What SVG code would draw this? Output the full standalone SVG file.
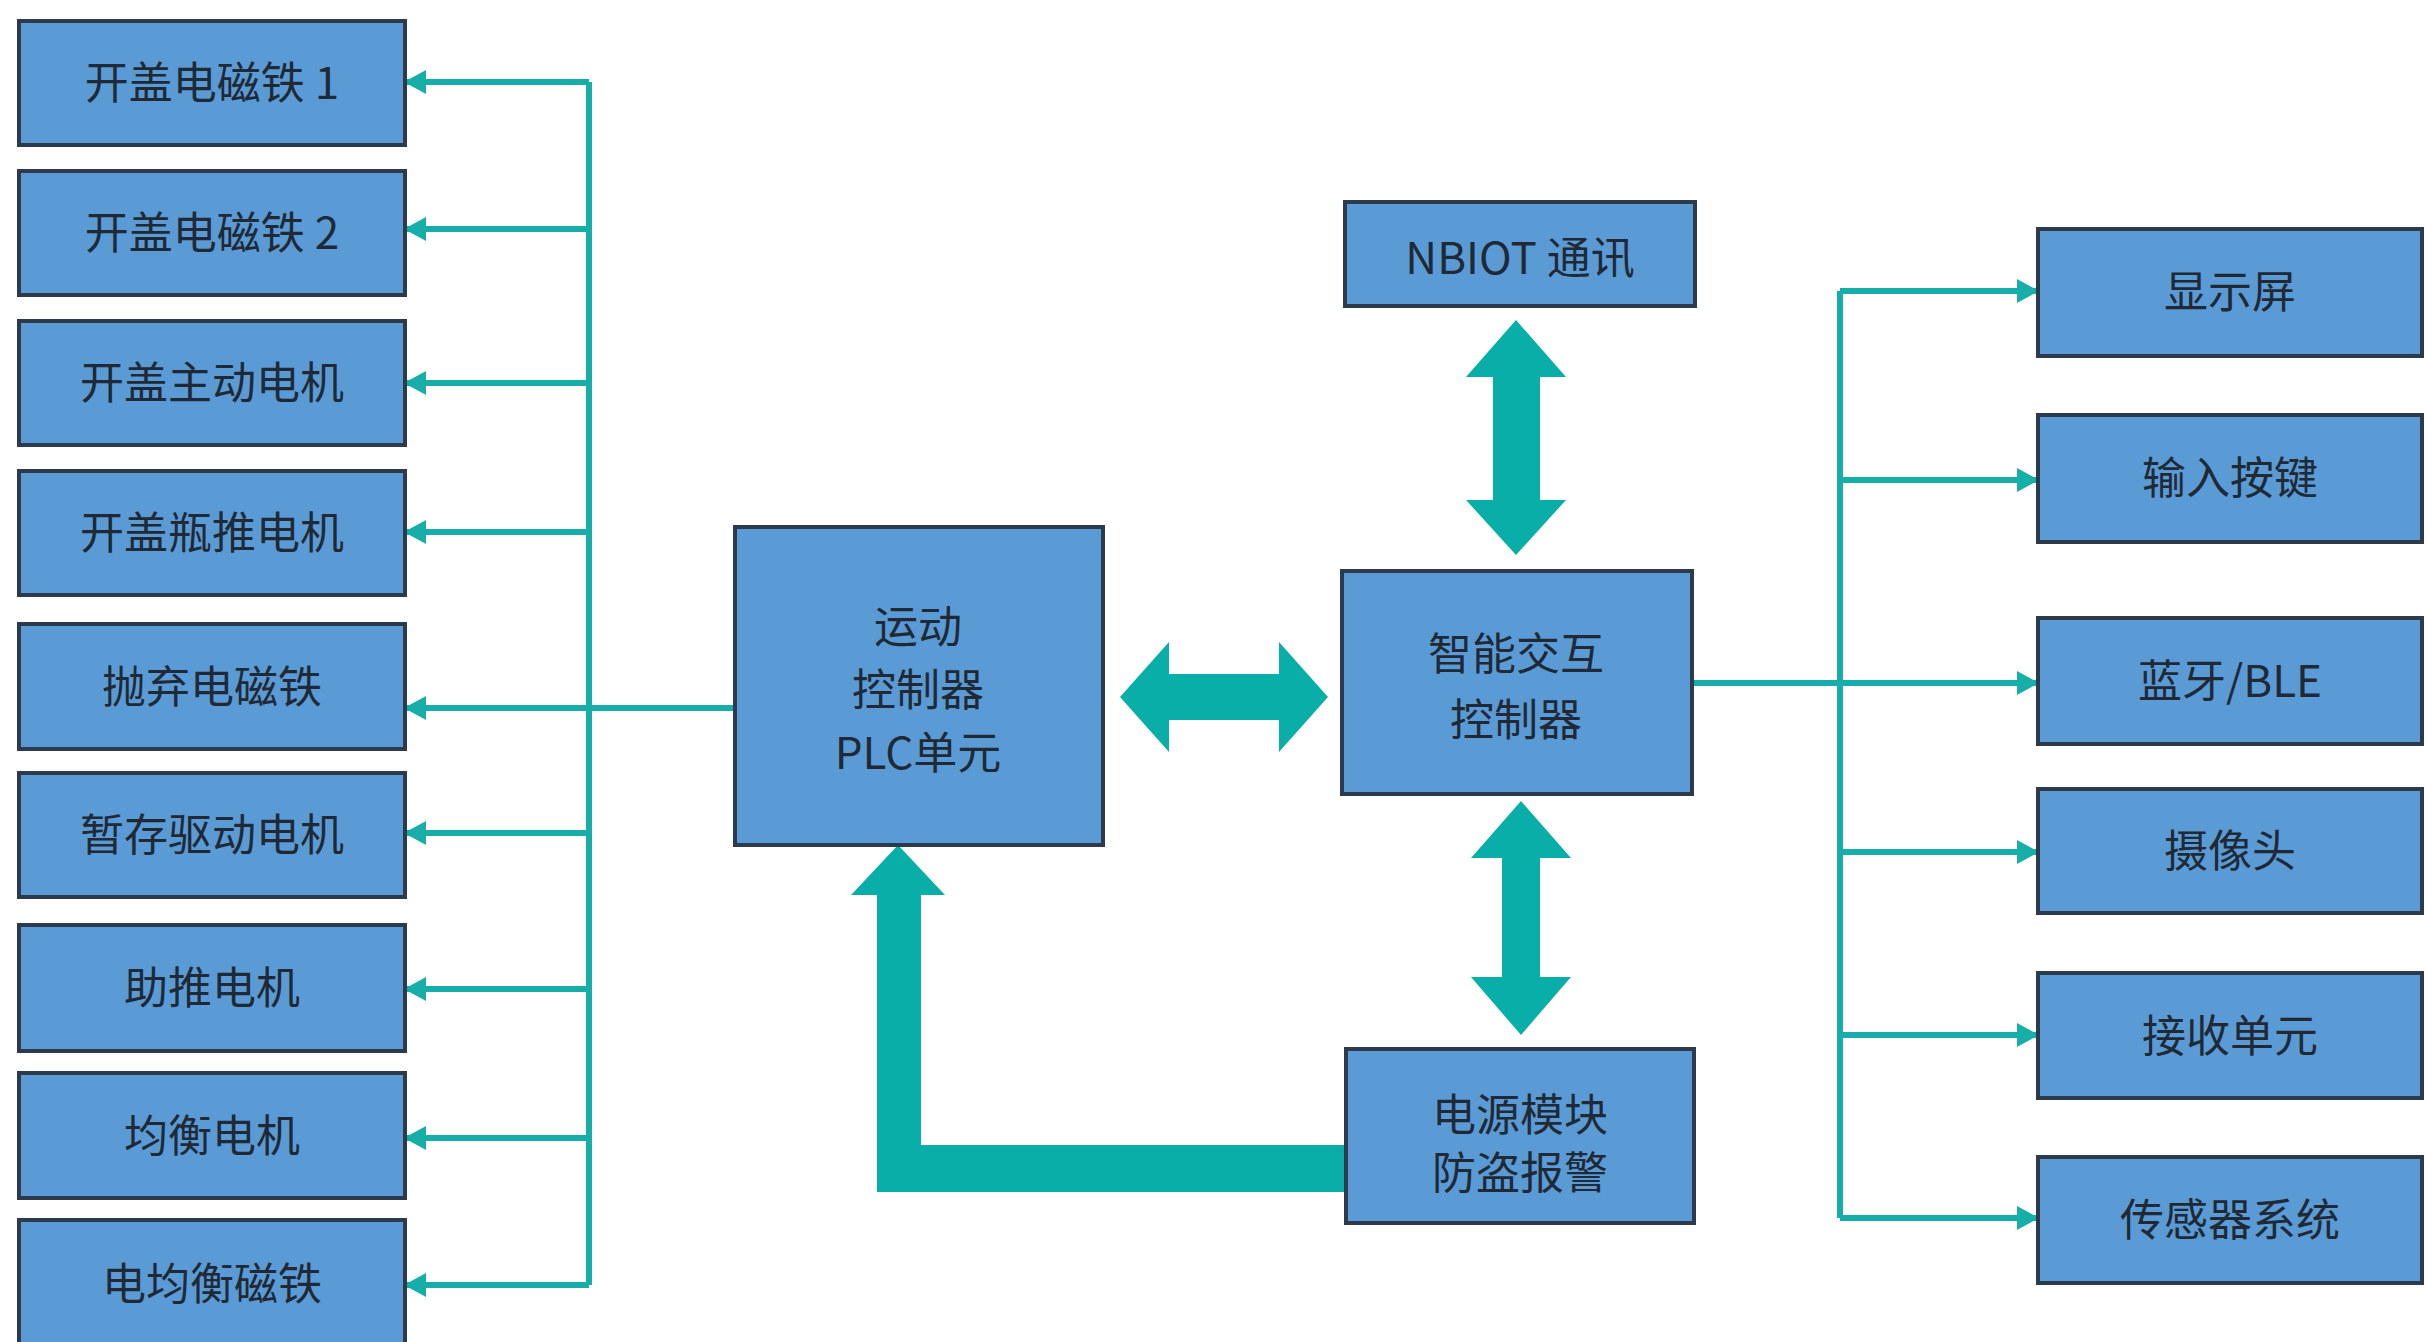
<svg xmlns="http://www.w3.org/2000/svg" width="2427" height="1342" viewBox="0 0 2427 1342">
<defs>
<style>
.box{fill:#5b9bd5;stroke:#2c3a4c;stroke-width:4}
.t{font-family:"Noto Sans CJK SC","Microsoft YaHei",sans-serif;font-size:44px;fill:#1f2a36;text-anchor:middle}
.ln{stroke:#17ada8;stroke-width:6;fill:none}
.big{fill:#0aaea9}
</style>
<marker id="ah" viewBox="0 0 22 24" markerUnits="userSpaceOnUse" markerWidth="22" markerHeight="24" refX="21" refY="12" orient="auto">
<path d="M0,0 L22,12 L0,24 z" fill="#17ada8"/>
</marker>
</defs>
<rect width="2427" height="1342" fill="#ffffff"/>

<g id="connectors">
<!-- left bus -->
<path class="ln" d="M589,82 V1285"/>
<path class="ln" d="M589,82 H405" marker-end="url(#ah)"/>
<path class="ln" d="M589,229 H405" marker-end="url(#ah)"/>
<path class="ln" d="M589,383 H405" marker-end="url(#ah)"/>
<path class="ln" d="M589,532 H405" marker-end="url(#ah)"/>
<path class="ln" d="M735,708 H405" marker-end="url(#ah)"/>
<path class="ln" d="M589,833 H405" marker-end="url(#ah)"/>
<path class="ln" d="M589,989 H405" marker-end="url(#ah)"/>
<path class="ln" d="M589,1138 H405" marker-end="url(#ah)"/>
<path class="ln" d="M589,1285 H405" marker-end="url(#ah)"/>
<!-- right bus -->
<path class="ln" d="M1840,291 V1218"/>
<path class="ln" d="M1840,291 H2038" marker-end="url(#ah)"/>
<path class="ln" d="M1840,480 H2038" marker-end="url(#ah)"/>
<path class="ln" d="M1692,683 H2038" marker-end="url(#ah)"/>
<path class="ln" d="M1840,852 H2038" marker-end="url(#ah)"/>
<path class="ln" d="M1840,1035 H2038" marker-end="url(#ah)"/>
<path class="ln" d="M1840,1218 H2038" marker-end="url(#ah)"/>
<!-- block arrows -->
<path class="big" d="M1120,697 L1169,642 L1169,674 L1279,674 L1279,642 L1328,697 L1279,752 L1279,720 L1169,720 L1169,752 Z"/>
<path class="big" d="M1516,320 L1566,377 L1540,377 L1540,500 L1566,500 L1516,555 L1466,500 L1493,500 L1493,377 L1466,377 Z"/>
<path class="big" d="M1521,801 L1571,858 L1540,858 L1540,977 L1571,977 L1521,1035 L1471,977 L1502,977 L1502,858 L1471,858 Z"/>
<path class="big" d="M898,845 L945,895 L921,895 L921,1145 L1346,1145 L1346,1192 L877,1192 L877,895 L851,895 Z"/>
</g>

<g id="n1"><rect class="box" x="19" y="21" width="386" height="124"/><text class="t" x="212" y="99">开盖电磁铁 1</text></g>
<g id="n2"><rect class="box" x="19" y="171" width="386" height="124"/><text class="t" x="212" y="249">开盖电磁铁 2</text></g>
<g id="n3"><rect class="box" x="19" y="321" width="386" height="124"/><text class="t" x="212" y="399">开盖主动电机</text></g>
<g id="n4"><rect class="box" x="19" y="471" width="386" height="124"/><text class="t" x="212" y="549">开盖瓶推电机</text></g>
<g id="n5"><rect class="box" x="19" y="624" width="386" height="125"/><text class="t" x="212" y="703">抛弃电磁铁</text></g>
<g id="n6"><rect class="box" x="19" y="773" width="386" height="124"/><text class="t" x="212" y="851">暂存驱动电机</text></g>
<g id="n7"><rect class="box" x="19" y="925" width="386" height="126"/><text class="t" x="212" y="1004">助推电机</text></g>
<g id="n8"><rect class="box" x="19" y="1073" width="386" height="125"/><text class="t" x="212" y="1152">均衡电机</text></g>
<g id="n9"><rect class="box" x="19" y="1220" width="386" height="130"/><text class="t" x="212" y="1300">电均衡磁铁</text></g>

<g id="plc"><rect class="box" x="735" y="527" width="368" height="318"/>
<text class="t" x="918" y="643">运动</text>
<text class="t" x="918" y="706">控制器</text>
<text class="t" x="918" y="769">PLC单元</text></g>

<g id="nbiot"><rect class="box" x="1345" y="202" width="350" height="104"/><text class="t" x="1520" y="274">NBIOT 通讯</text></g>
<g id="smart"><rect class="box" x="1342" y="571" width="350" height="223"/>
<text class="t" x="1516" y="670">智能交互</text>
<text class="t" x="1516" y="736">控制器</text></g>
<g id="power"><rect class="box" x="1346" y="1049" width="348" height="174"/>
<text class="t" x="1520" y="1131">电源模块</text>
<text class="t" x="1520" y="1189">防盗报警</text></g>

<g id="r1"><rect class="box" x="2038" y="229" width="384" height="127"/><text class="t" x="2230" y="308">显示屏</text></g>
<g id="r2"><rect class="box" x="2038" y="415" width="384" height="127"/><text class="t" x="2230" y="494">输入按键</text></g>
<g id="r3"><rect class="box" x="2038" y="618" width="384" height="126"/><text class="t" x="2230" y="697">蓝牙/BLE</text></g>
<g id="r4"><rect class="box" x="2038" y="789" width="384" height="124"/><text class="t" x="2230" y="867">摄像头</text></g>
<g id="r5"><rect class="box" x="2038" y="973" width="384" height="125"/><text class="t" x="2230" y="1052">接收单元</text></g>
<g id="r6"><rect class="box" x="2038" y="1157" width="384" height="126"/><text class="t" x="2230" y="1236">传感器系统</text></g>
</svg>
